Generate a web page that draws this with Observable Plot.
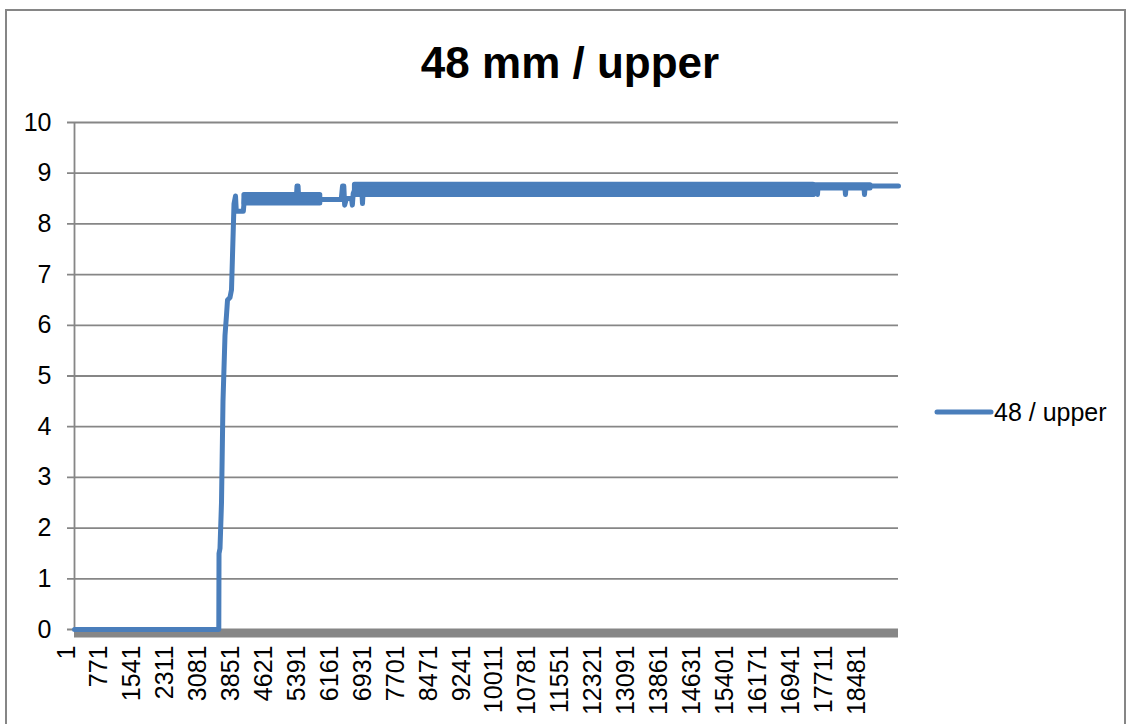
<!DOCTYPE html>
<html>
<head>
<meta charset="utf-8">
<script src="https://cdn.jsdelivr.net/npm/d3@7"></script>
<script src="https://cdn.jsdelivr.net/npm/@observablehq/plot@0.6"></script>
<style>
  body { margin: 0; background: #fff; font-family: "Liberation Sans", Arial, sans-serif; }
  #wrap { position: relative; width: 1129px; height: 724px; overflow: hidden; }
  #frame { position: absolute; left: 5px; top: 9px; width: 1121px; height: 760px; border: 2px solid #868686; box-sizing: border-box; }
  #chart { position: absolute; left: 0; top: 0; }
  #title { position: absolute; left: 0; width: 1140px; top: 41px; text-align: center; font-weight: bold; font-size: 44px; line-height: 44px; color: #000; }
  #legend { position: absolute; left: 934px; top: 399px; height: 26px; display: flex; align-items: center; font-size: 25px; line-height: 26px; color: #000; }
  #legend svg { display: block; margin-right: 0px; }
</style>
</head>
<body>
<div id="wrap">
  <div id="frame"></div>
  <div id="chart"></div>
  <div id="title"></div>
  <div id="legend"></div>
</div>
<script>
// ---- data ----
const chartTitle = "48 mm / upper";
const seriesName = "48 / upper";
const lastIndex = 19275;
const xTickLabels = [1, 771, 1541, 2311, 3081, 3851, 4621, 5391, 6161, 6931, 7701, 8471, 9241,
  10011, 10781, 11551, 12321, 13091, 13861, 14631, 15401, 16171, 16941, 17711, 18481];
const yTickValues = [0, 1, 2, 3, 4, 5, 6, 7, 8, 9, 10];

// main trace (sample index, value)
const traceIdx = [1, 3376, 3381, 3404, 3439, 3474, 3521, 3556, 3580, 3638, 3673, 3732, 3767, 3785, 3950, 3975,
  5190, 5205, 5230, 5245, 5750, 6240, 6270, 6300, 6320, 6360, 6480, 6500, 6520, 6560,
  6720, 6737, 6755, 17270, 17287, 17300, 17370, 17380, 17395, 18020, 18035, 18050, 18465, 18480, 18495, 19275];
const traceVal = [0, 0, 1.5, 1.6, 2.5, 4.5, 5.8, 6.2, 6.5, 6.55, 6.7, 8.4, 8.55, 8.25, 8.25, 8.5,
  8.5, 8.75, 8.75, 8.5, 8.48, 8.48, 8.75, 8.75, 8.37, 8.5, 8.5, 8.37, 8.6, 8.68,
  8.68, 8.4, 8.68, 8.68, 8.58, 8.75, 8.75, 8.58, 8.75, 8.75, 8.58, 8.75, 8.75, 8.58, 8.75, 8.75];

// dense noise envelopes (start index, end index, low, high)
const bandStart = [3975, 6560, 17287];
const bandEnd   = [5750, 17287, 18620];
const bandLo    = [8.40, 8.57, 8.70];
const bandHi    = [8.57, 8.77, 8.76];

// ---- build tables ----
const trace = traceIdx.map((i, k) => ({i, v: traceVal[k]}));
const bands = [];
bandStart.forEach((s, k) => {
  bands.push({seg: k, i: s, lo: bandLo[k], hi: bandHi[k]});
  bands.push({seg: k, i: bandEnd[k], lo: bandLo[k], hi: bandHi[k]});
});

const blue = "#4A7EBB";
const gray = "#868686";

const plot = Plot.plot({
  width: 1129,
  height: 724,
  marginLeft: 74,
  marginRight: 231,
  marginTop: 122,
  marginBottom: 95,
  style: {fontFamily: '"Liberation Sans", Arial, sans-serif', background: "transparent", overflow: "visible"},
  x: {domain: [0.5, lastIndex + 0.5], axis: null},
  y: {domain: [0, 10], axis: null},
  marks: [
    Plot.ruleY(yTickValues, {y: d => d, stroke: gray, strokeWidth: 1.8, insetLeft: -7}),
    Plot.ruleX([0.5], {x: d => d, y1: 0, y2: 10, stroke: gray, strokeWidth: 1.8}),
    Plot.ruleY([0], {y: d => d, stroke: gray, strokeWidth: 8, dy: 4}),
    Plot.text(yTickValues, {y: d => d, frameAnchor: "left", text: d => String(d), textAnchor: "end", dx: -23, fontSize: 25, fill: "#000"}),
    Plot.text(xTickLabels, {x: d => d, frameAnchor: "bottom", text: d => String(d), rotate: -90, textAnchor: "end", dy: 16, fontSize: 25, fill: "#000"}),
    Plot.areaY(bands, {x: "i", y1: "lo", y2: "hi", z: "seg", fill: blue, stroke: blue, strokeWidth: 5, strokeLinejoin: "round"}),
    Plot.line(trace, {x: "i", y: "v", stroke: blue, strokeWidth: 5, strokeLinejoin: "round", strokeLinecap: "round"})
  ]
});
document.getElementById("chart").appendChild(plot);
document.getElementById("title").textContent = chartTitle;

const legend = document.getElementById("legend");
legend.innerHTML = `<svg width="60" height="26"><line x1="3" y1="13" x2="57" y2="13" stroke="${blue}" stroke-width="5" stroke-linecap="round"/></svg><span></span>`;
legend.querySelector("span").textContent = seriesName;
</script>
</body>
</html>
